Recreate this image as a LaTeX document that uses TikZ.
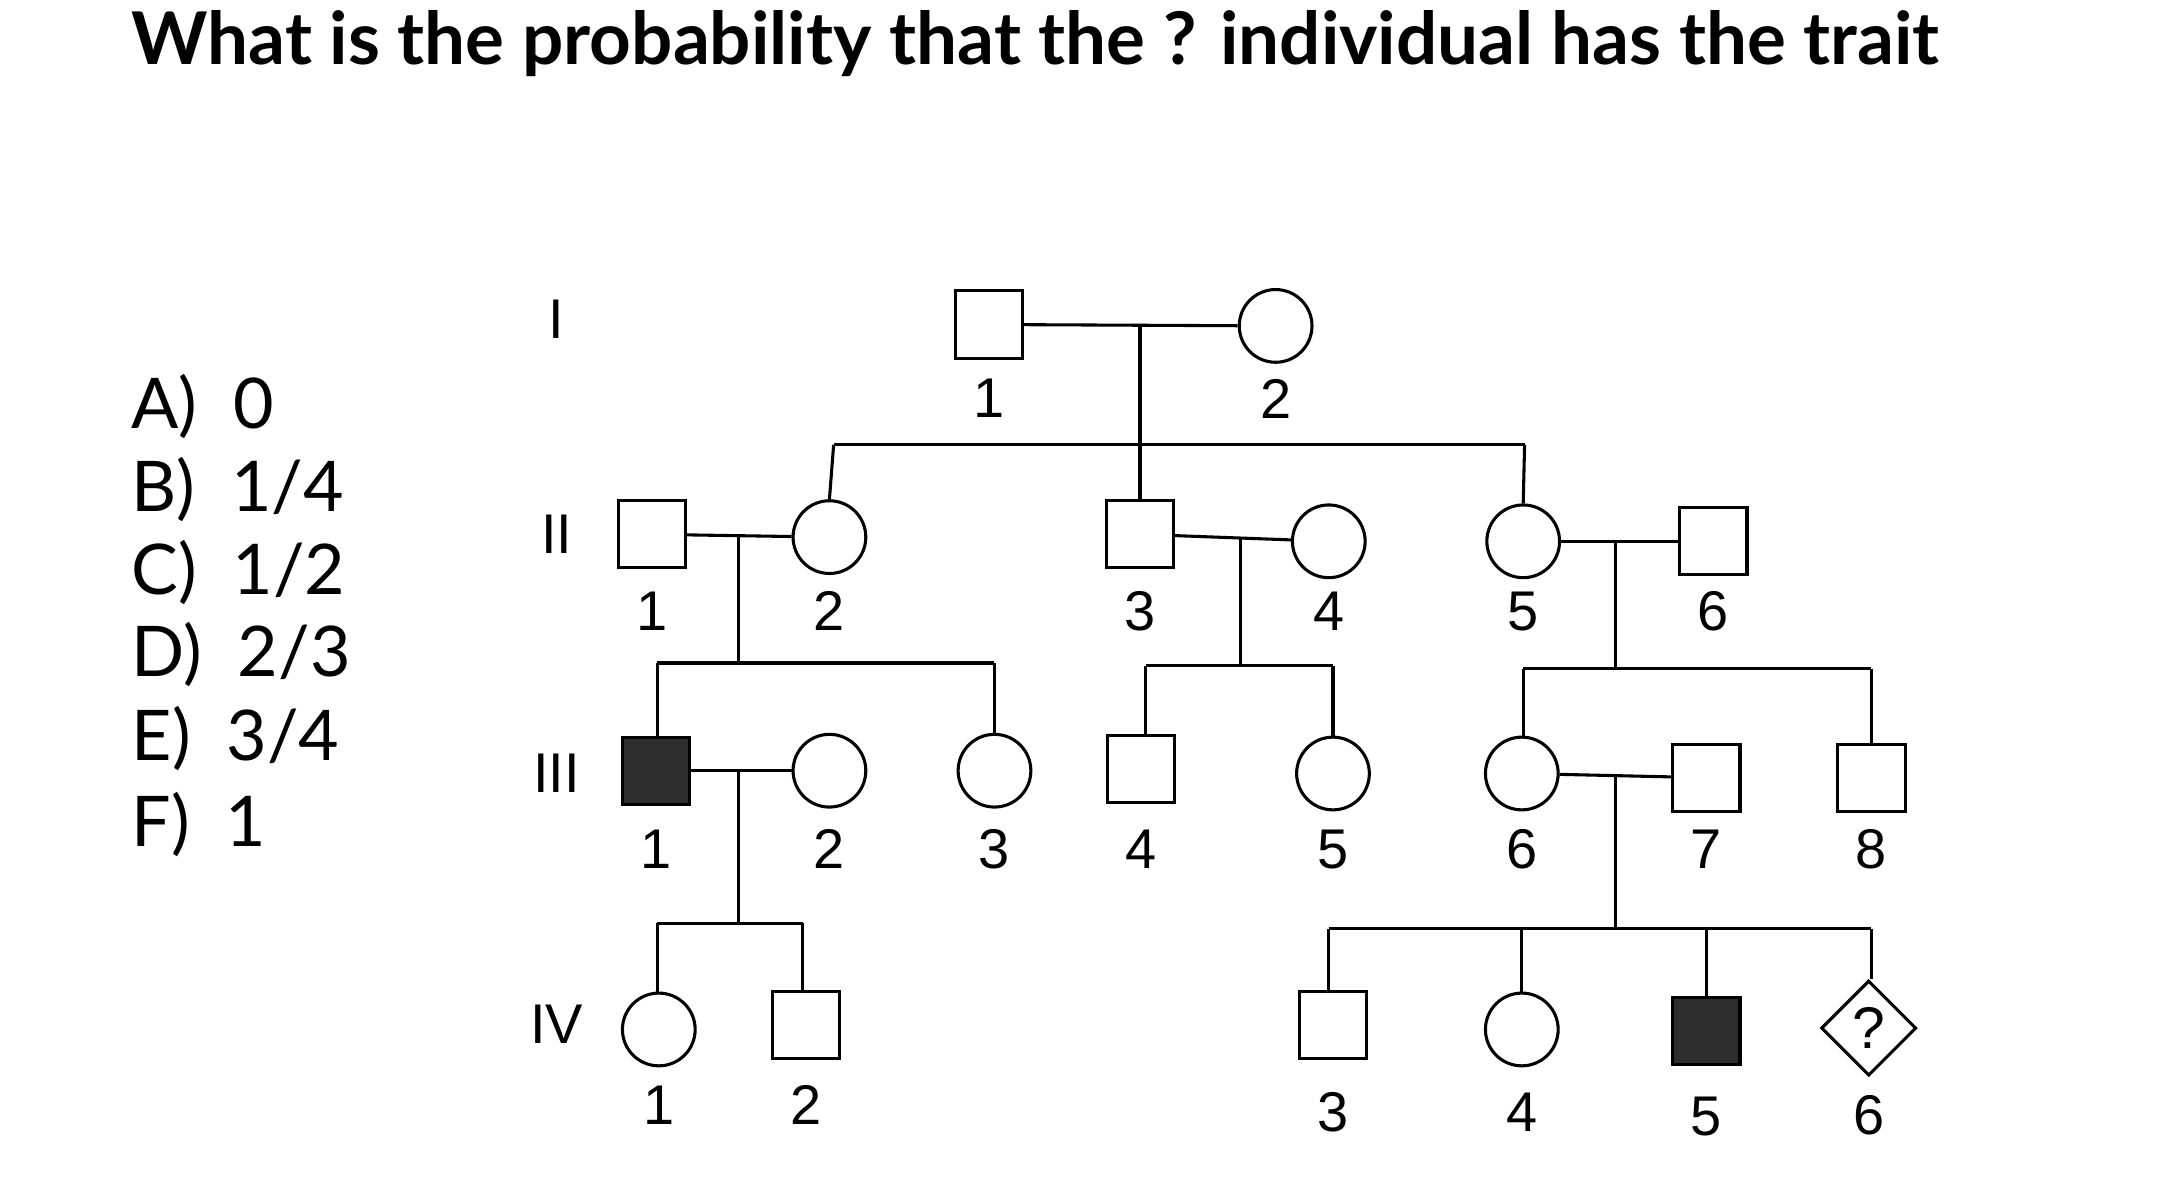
\documentclass[tikz,border=0pt]{standalone}
\usepackage{fontspec}
\setmainfont{Lato}
\newfontfamily\pedfont{Liberation Sans}
\usetikzlibrary{shapes.geometric}
\begin{document}
\begin{tikzpicture}[x=0.5pt,y=-0.5pt,line width=1.1pt,
  male/.style={draw,rectangle,minimum size=24pt,inner sep=0pt},
  female/.style={draw,circle,minimum size=26pt,inner sep=0pt},
  aff/.style={fill=black!82},
  unk/.style={draw,diamond,minimum size=34pt,inner sep=0pt,font=\pedfont\fontsize{21}{21}\selectfont},
  lab/.style={font=\pedfont\fontsize{20}{20}\selectfont},
  gen/.style={font=\pedfont\fontsize{20}{20}\selectfont},
  ans/.style={anchor=base west,font=\fontsize{25}{25}\selectfont}]
\useasboundingbox (0,0) rectangle (1560,852);
\node[anchor=base west,inner sep=0pt,font=\bfseries\fontsize{26}{26}\selectfont] (title) at (93,46) {What is the probability that the ? individual has the trait};
\node[ans,inner sep=0pt] (a) at (93,306) {A)\ \ 0};
\node[ans,inner sep=0pt] (b) at (93,366) {B)\ \ 1/4};
\node[ans,inner sep=0pt] (c) at (93,425) {C)\ \ 1/2};
\node[ans,inner sep=0pt] (d) at (93,484) {D)\ \ 2/3};
\node[ans,inner sep=0pt] (e) at (93,544) {E)\ \ 3/4};
\node[ans,inner sep=0pt] (f) at (93,605) {F)\ \ 1};
\node[gen] (gI) at (398,228) {I};
\node[gen] (gII) at (398,382) {II};
\node[gen] (gIII) at (398,553) {III};
\node[gen] (gIV) at (398,732) {IV};
% Gen I
\node[male] (i1) at (707,232) {};
\node[female] (i2) at (912,233) {};
\node[lab] at (707,285) {1}; \node[lab] at (912,285) {2};
\draw (i1) -- (i2);
\coordinate (dI) at (815,232); \coordinate (sI) at (815,318);
\draw (dI) -- (sI);
\coordinate (sIl) at (596,318); \coordinate (sIr) at (1090,318);
\draw (sIl) -- (sIr);
% Gen II
\node[male] (ii1) at (466,382) {};
\node[female] (ii2) at (593,384) {};
\node[male] (ii3) at (815,382) {};
\node[female] (ii4) at (950,387) {};
\node[female] (ii5) at (1089,387) {};
\node[male] (ii6) at (1225,387) {};
\foreach \x/\t in {466/1,593/2,815/3,950/4,1089/5,1225/6} \node[lab] at (\x,437) {\t};
\draw (sIl) -- (ii2.north); \draw (sI) -- (ii3.north); \draw (sIr) -- (ii5.north);
\draw (ii1) -- (ii2); \draw (ii3) -- (ii4); \draw (ii5) -- (ii6);
\coordinate (c1) at (528,382); \coordinate (c1s) at (528,474);
\coordinate (c2) at (887,384); \coordinate (c2s) at (887,476);
\coordinate (c3) at (1155,387); \coordinate (c3s) at (1155,478);
\draw (c1) -- (c1s); \draw (c2) -- (c2s); \draw (c3) -- (c3s);
\coordinate (s1l) at (470,474); \coordinate (s1r) at (711,474);
\coordinate (s2l) at (819,476); \coordinate (s2r) at (953,476);
\coordinate (s3l) at (1089,478); \coordinate (s3r) at (1338,478);
\draw (s1l) -- (s1r); \draw (s2l) -- (s2r); \draw (s3l) -- (s3r);
% Gen III
\node[male,aff] (iii1) at (469,551) {};
\node[female] (iii2) at (593,551) {};
\node[female] (iii3) at (711,551) {};
\node[male] (iii4) at (816,550) {};
\node[female] (iii5) at (953,553) {};
\node[female] (iii6) at (1088,553) {};
\node[male] (iii7) at (1220,556) {};
\node[male] (iii8) at (1338,556) {};
\foreach \x/\t in {469/1,593/2,711/3,816/4,953/5,1088/6,1220/7,1338/8} \node[lab] at (\x,607) {\t};
\draw (s1l) -- (iii1.north -| s1l); \draw (s1r) -- (iii3.north);
\draw (s2l) -- (iii4.north -| s2l); \draw (s2r) -- (iii5.north);
\draw (s3l) -- (iii6.north -| s3l); \draw (s3r) -- (iii8.north);
\draw (iii1) -- (iii2); \draw (iii6) -- (iii7);
\coordinate (c4) at (528,551); \coordinate (c4s) at (528,660);
\coordinate (c5) at (1155,554); \coordinate (c5s) at (1155,664);
\draw (c4) -- (c4s); \draw (c5) -- (c5s);
\coordinate (s4l) at (470,660); \coordinate (s4r) at (574,660);
\coordinate (s5l) at (950,664); \coordinate (s5r) at (1338,664);
\draw (s4l) -- (s4r); \draw (s5l) -- (s5r);
% Gen IV
\node[female] (iv1) at (471,736) {};
\node[male] (iv2) at (576,733) {};
\node[male] (iv3) at (953,733) {};
\node[female] (iv4) at (1088,736) {};
\node[male,aff] (iv5) at (1220,737) {};
\node[unk] (iv6) at (1336,735) {?};
\foreach \x/\y/\t in {471/790/1,576/790/2,953/795/3,1088/795/4,1220/798/5,1336/797/6} \node[lab] at (\x,\y) {\t};
\draw (s4l) -- (iv1.north -| s4l); \draw (s4r) -- (iv2.north -| s4r);
\draw (s5l) -- (iv3.north -| s5l); \draw (iv4.north |- s5l) -- (iv4.north);
\draw (iv5.north |- s5l) -- (iv5.north); \draw (s5r) -- (iv6.north -| s5r);
\end{tikzpicture}
\end{document}
